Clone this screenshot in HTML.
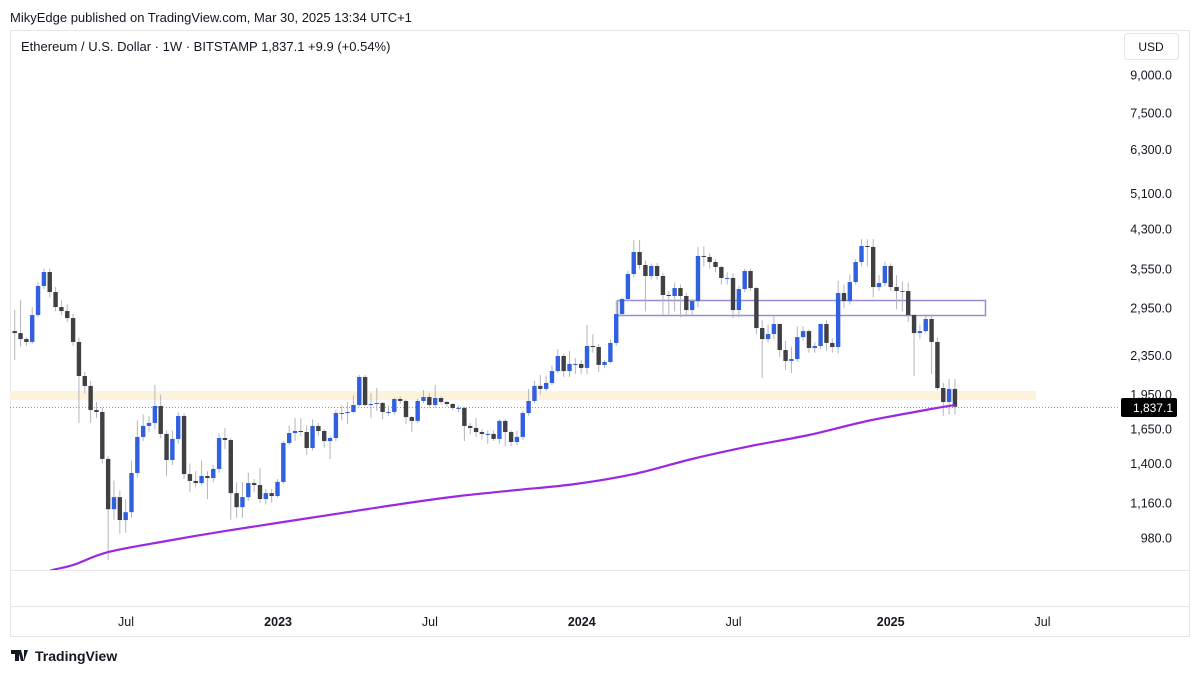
<!DOCTYPE html>
<html><head><meta charset="utf-8"><style>
body{margin:0;background:#fff;width:1200px;height:674px;overflow:hidden;font-family:"Liberation Sans",sans-serif;}
svg text{font-family:"Liberation Sans",sans-serif;}
</style></head><body>
<svg id="c" width="1200" height="674" xmlns="http://www.w3.org/2000/svg">
<text x="10" y="22" font-size="13" fill="#131722">MikyEdge published on TradingView.com, Mar 30, 2025 13:34 UTC+1</text>
<rect x="10.5" y="30.5" width="1179" height="606" fill="none" stroke="#e6e6e6"/>
<line x1="10" y1="570.5" x2="1189" y2="570.5" stroke="#e6e6e6"/>
<line x1="10" y1="606.5" x2="1189" y2="606.5" stroke="#e6e6e6"/>
<text x="21" y="51" font-size="13" fill="#131722">Ethereum / U.S. Dollar · 1W · BITSTAMP  1,837.1  +9.9 (+0.54%)</text>
<rect x="1124.5" y="33.5" width="54" height="26" rx="3" fill="#fff" stroke="#e0e3eb"/>
<text x="1151" y="51" font-size="12" fill="#131722" text-anchor="middle">USD</text>
<rect x="10" y="391" width="1026" height="9" fill="#fdf3dc"/>
<rect x="617.5" y="300.5" width="368" height="15" fill="none" stroke="#9c8ad6" stroke-width="1.5"/>
<line x1="10" y1="407.5" x2="1120" y2="407.5" stroke="#9598a1" stroke-dasharray="1,2"/>
<defs><clipPath id="pc"><rect x="10" y="31" width="1108" height="539"/></clipPath></defs>
<g id="candles" clip-path="url(#pc)"></g>
<g id="ma" clip-path="url(#pc)"></g>
<g id="yaxis"></g>
<g id="xaxis"></g>
<rect x="1121" y="398" width="56" height="19" rx="2" fill="#000"/>
<text x="1173" y="412" font-size="12" fill="#fff" text-anchor="end">1,837.1</text>
<g>
<path d="M11 650h8v11h-4v-7h-4z M21 650l3 11h-3l-3-11z M24 650h4l-4 11z" fill="#131722"/>
<text x="35" y="661" font-size="14" font-weight="bold" fill="#131722">TradingView</text>
</g>
</svg>
<script>
const firstOpen = 2640;
const closes = [2615,2541,2506,2851,3276,3503,3183,2962,2906,2810,2506,2129,2030,1809,1792,1431,1125,1192,1068,1109,1338,1590,1676,1700,1844,1613,1424,1575,1758,1331,1288,1275,1319,1306,1364,1582,1567,1215,1136,1192,1275,1263,1181,1215,1198,1282,1545,1620,1636,1628,1508,1676,1636,1559,1582,1783,1783,1792,1853,2119,1853,1862,1871,1792,1792,1907,1889,1749,1717,1889,1925,1853,1916,1880,1862,1827,1827,1676,1660,1628,1613,1613,1575,1717,1628,1552,1590,1783,1889,2030,2001,2059,2180,2343,2180,2255,2255,2213,2458,2446,2245,2277,2494,2864,3078,3470,3856,3623,3437,3606,3437,3138,3123,3244,3123,2920,3048,3783,3765,3675,3589,3404,3404,2920,3229,3520,3244,2679,2541,2603,2731,2411,2288,2309,2565,2640,2435,2458,2731,2494,2446,3168,3048,3339,3675,3968,3950,3260,3323,3606,3260,3199,3199,2851,2615,2640,2797,2506,2010,1880,2001,1837.1];
const highs = [2920,3060,2560,2960,3330,3560,3560,3260,3060,3000,2870,2560,2170,2080,1880,1830,1450,1290,1230,1180,1420,1720,1770,1760,2040,1950,1640,1640,1790,1780,1400,1350,1420,1350,1390,1620,1660,1580,1280,1280,1340,1300,1370,1240,1240,1300,1560,1680,1740,1740,1680,1730,1700,1650,1600,1810,1850,1880,1940,2140,2140,1960,2010,1880,1850,1920,1930,1900,1760,1910,1990,1960,2040,1930,1890,1870,1850,1840,1700,1740,1650,1640,1640,1730,1730,1640,1640,1800,2000,2080,2140,2130,2240,2420,2370,2400,2320,2300,2720,2600,2480,2300,2540,3050,3100,3520,4080,4080,3700,3650,3660,3490,3200,3330,3300,3170,3080,3950,3960,3830,3720,3600,3500,3480,3280,3560,3560,3260,2780,2720,2830,2740,2520,2450,2700,2700,2660,2500,2740,2780,2550,3360,3300,3460,3730,4100,4100,4100,3450,3680,3650,3450,3350,3330,2860,2720,2840,2840,2560,2060,2100,2100];
const lows = [2299,2450,2458,2480,2820,3230,3100,2900,2850,2760,2460,1700,1960,1700,1740,1400,882,1070,1000,1005,1080,1310,1560,1630,1650,1580,1320,1390,1540,1300,1220,1250,1260,1180,1280,1340,1500,1070,1080,1080,1170,1220,1160,1150,1160,1190,1270,1530,1560,1600,1460,1490,1600,1510,1430,1560,1720,1690,1780,1840,1840,1740,1800,1730,1760,1770,1860,1690,1630,1700,1870,1830,1830,1860,1840,1810,1790,1560,1610,1590,1570,1540,1560,1540,1520,1520,1530,1570,1760,1870,1950,1980,2040,2160,2120,2120,2150,2150,2150,2380,2170,2210,2260,2460,2840,3050,3420,3550,2900,3380,3380,2860,2860,2900,2820,2850,2850,2960,3600,3560,3500,3300,3300,2810,2820,3180,3200,2600,2110,2500,2540,2330,2190,2160,2280,2520,2380,2380,2420,2400,2380,2370,2950,3000,3300,3600,3600,3100,3200,3270,3200,2930,2900,2760,2130,2540,2620,2150,1990,1760,1770,1770];
const maIndex = [7,11,17,27,37,47,57,67,77,87,97,107,117,127,137,147,157,162];
const maValues = [837,861,916,966,1013,1058,1104,1153,1198,1233,1269,1331,1431,1522,1605,1716,1809,1853];
const priceTicks = [9000,7500,6300,5100,4300,3550,2950,2350,1950,1650,1400,1160,980];
const timeLabels = ["Jul","2023","Jul","2024","Jul","2025","Jul"];
const timeLabelWeeks = [20.06,46.1,72.1,98.1,124.1,151,177];

const NS="http://www.w3.org/2000/svg";
function y(p){return 75+208.8*Math.log(9000/p);}
function x(i){return 14.7+(i-1)*5.84;}
function mk(t,a,parent){const e=document.createElementNS(NS,t);for(const k in a)e.setAttribute(k,a[k]);parent.appendChild(e);return e;}
const cg=document.getElementById('candles');
for(let i=0;i<closes.length;i++){
  const o=i===0?firstOpen:closes[i-1], c=closes[i], cx=x(i+1);
  const up=c>=o;
  const w=mk('line',{x1:cx,x2:cx,y1:y(highs[i]),y2:y(lows[i]),stroke:'#b2b5be','stroke-width':1},cg);
  
  
  const top=y(Math.max(o,c)),bot=y(Math.min(o,c));
  const b=mk('rect',{x:cx-2.2,y:top,width:4.4,height:Math.max(1,bot-top),fill:up?'#3060e0':'#3f3f44'},cg);
  
  
}
let pts=[];
for(let k=0;k<maIndex.length;k++){pts.push([x(maIndex[k]),y(maValues[k])]);}
pts.unshift([pts[0][0]-30,pts[0][1]+12]);
let d='M'+pts[0][0].toFixed(1)+','+pts[0][1].toFixed(1);
for(let k=1;k<pts.length;k++){
  const p0=pts[k-2]||pts[k-1],p1=pts[k-1],p2=pts[k],p3=pts[k+1]||pts[k];
  const c1=[p1[0]+(p2[0]-p0[0])/6,p1[1]+(p2[1]-p0[1])/6],c2=[p2[0]-(p3[0]-p1[0])/6,p2[1]-(p3[1]-p1[1])/6];
  d+='C'+c1[0].toFixed(1)+','+c1[1].toFixed(1)+' '+c2[0].toFixed(1)+','+c2[1].toFixed(1)+' '+p2[0].toFixed(1)+','+p2[1].toFixed(1);
}
const ml=mk('path',{d:d,fill:'none',stroke:'#9c27e0','stroke-width':2.2,'stroke-linejoin':'round'},document.getElementById('ma'));


const yg=document.getElementById('yaxis');
priceTicks.forEach(p=>{
  const t=mk('text',{x:1172,y:y(p)+4.5,'font-size':12.5,fill:'#131722','text-anchor':'end'},yg);
  t.textContent=p.toLocaleString('en-US',{minimumFractionDigits:1});
  
  
});
const xg=document.getElementById('xaxis');
timeLabels.forEach((s,k)=>{
  const bold=/^\d/.test(s);
  const t=mk('text',{x:x(timeLabelWeeks[k]),y:626,'font-size':12.5,fill:'#131722','text-anchor':'middle','font-weight':bold?'bold':'normal'},xg);
  t.textContent=s;
  
  
});
</script>
</body></html>
